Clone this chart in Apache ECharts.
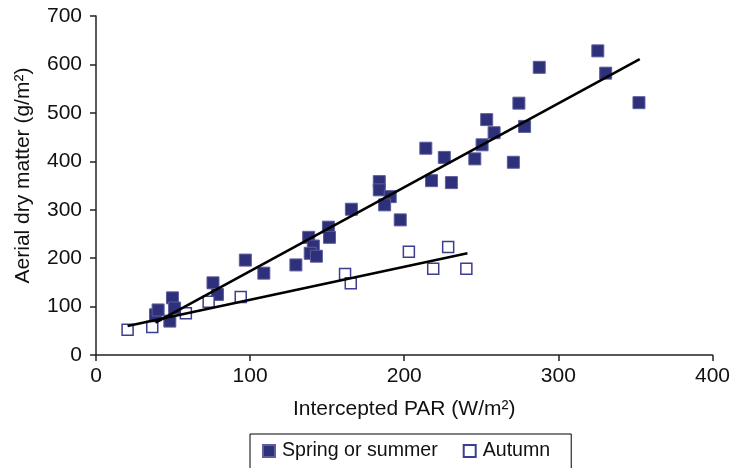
<!DOCTYPE html>
<html>
<head>
<meta charset="utf-8">
<script src="https://cdn.jsdelivr.net/npm/echarts@6/dist/echarts.min.js"></script>
<style>
html,body{margin:0;padding:0;background:#fff;}
#c{width:733px;height:468px;}
</style>
</head>
<body>
<div id="c"></div>
<script>
// Data
var springX = [38.6, 40.3, 47.9, 49.6, 51, 75.9, 78.8, 96.9, 108.9, 129.7, 138, 141, 139, 143, 150.8, 151.5, 165.7, 183.8, 183.8, 190.9, 187.3, 197.4, 214, 217.7, 226, 230.6, 245.8, 250.5, 253.5, 258.3, 270.8, 274.4, 278.1, 287.6, 325.6, 330.7, 352.3];
var springY = [83, 93, 70, 118, 97, 149, 125, 196, 169, 186, 243, 225, 210, 204, 264, 243, 301, 358, 341, 327, 310, 279, 427, 360, 408, 356, 405, 434, 486, 459, 398, 520, 472, 594, 628, 582, 521];
var autumnX = [20.5, 36.5, 58.3, 73.1, 93.9, 161.6, 165.3, 203, 218.8, 228.5, 240.3];
var autumnY = [52, 58, 86, 110, 120, 167, 148, 213, 178, 223, 178];
var springTrendX = [38.6, 352.8];
var springTrendY = [67, 611];
var autumnTrendX = [20.5, 241];
var autumnTrendY = [60, 210];
var seriesNames = ['Spring or summer', 'Autumn'];
var xTitle = 'Intercepted PAR (W/m²)';
var yTitle = 'Aerial dry matter (g/m²)';

function pairs(xs, ys) { return xs.map(function (x, i) { return [x, ys[i]]; }); }

var FONT = '"Liberation Sans", Arial, Helvetica, sans-serif';
var chart = echarts.init(document.getElementById('c'), null, {renderer: 'canvas'});
chart.setOption({
  animation: false,
  backgroundColor: '#fff',
  grid: {left: 96, right: 19, top: 16, bottom: 113, containLabel: false},
  legend: {
    data: seriesNames,
    left: 250, top: 434,
    orient: 'horizontal',
    itemWidth: 12, itemHeight: 12,
    itemGap: 25,
    padding: [7, 21, 20, 12],
    borderColor: '#000', borderWidth: 1,
    textStyle: {fontFamily: FONT, fontSize: 19.6, color: '#111', padding: [0, 0, 0, 2]}
  },
  xAxis: {
    type: 'value', min: 0, max: 400, interval: 100,
    name: xTitle, nameLocation: 'middle', nameGap: 44,
    nameTextStyle: {fontFamily: FONT, fontSize: 21, color: '#111'},
    axisLine: {lineStyle: {color: '#222', width: 1.5}},
    axisTick: {show: true, inside: false, length: 6, lineStyle: {color: '#222', width: 1.5}},
    axisLabel: {fontFamily: FONT, fontSize: 21, color: '#111', margin: 11},
    splitLine: {show: false}
  },
  yAxis: {
    type: 'value', min: 0, max: 700, interval: 100,
    name: yTitle, nameLocation: 'middle', nameGap: 62,
    nameTextStyle: {fontFamily: FONT, fontSize: 21, color: '#111', padding: [0, 0, 0, 20]},
    axisLine: {show: true, lineStyle: {color: '#222', width: 1.5}},
    axisTick: {show: true, inside: false, length: 6, lineStyle: {color: '#222', width: 1.5}},
    axisLabel: {fontFamily: FONT, fontSize: 21, color: '#111', margin: 14},
    splitLine: {show: false}
  },
  series: [
    {
      name: seriesNames[0], type: 'scatter', symbol: 'rect', symbolSize: 12,
      data: pairs(springX, springY),
      itemStyle: {color: '#2e3079', borderColor: '#5c5e9e', borderWidth: 1, opacity: 1},
      z: 2
    },
    {
      name: seriesNames[1], type: 'scatter', symbol: 'rect', symbolSize: 11,
      data: pairs(autumnX, autumnY),
      itemStyle: {color: '#ffffff', borderColor: '#3c3f8f', borderWidth: 1.5, opacity: 1},
      z: 2
    },
    {
      name: 'springTrend', type: 'line', data: pairs(springTrendX, springTrendY),
      symbol: 'none', lineStyle: {color: '#000', width: 2.6}, z: 3, silent: true
    },
    {
      name: 'autumnTrend', type: 'line', data: pairs(autumnTrendX, autumnTrendY),
      symbol: 'none', lineStyle: {color: '#000', width: 2.6}, z: 3, silent: true
    }
  ]
});
</script>
</body>
</html>
